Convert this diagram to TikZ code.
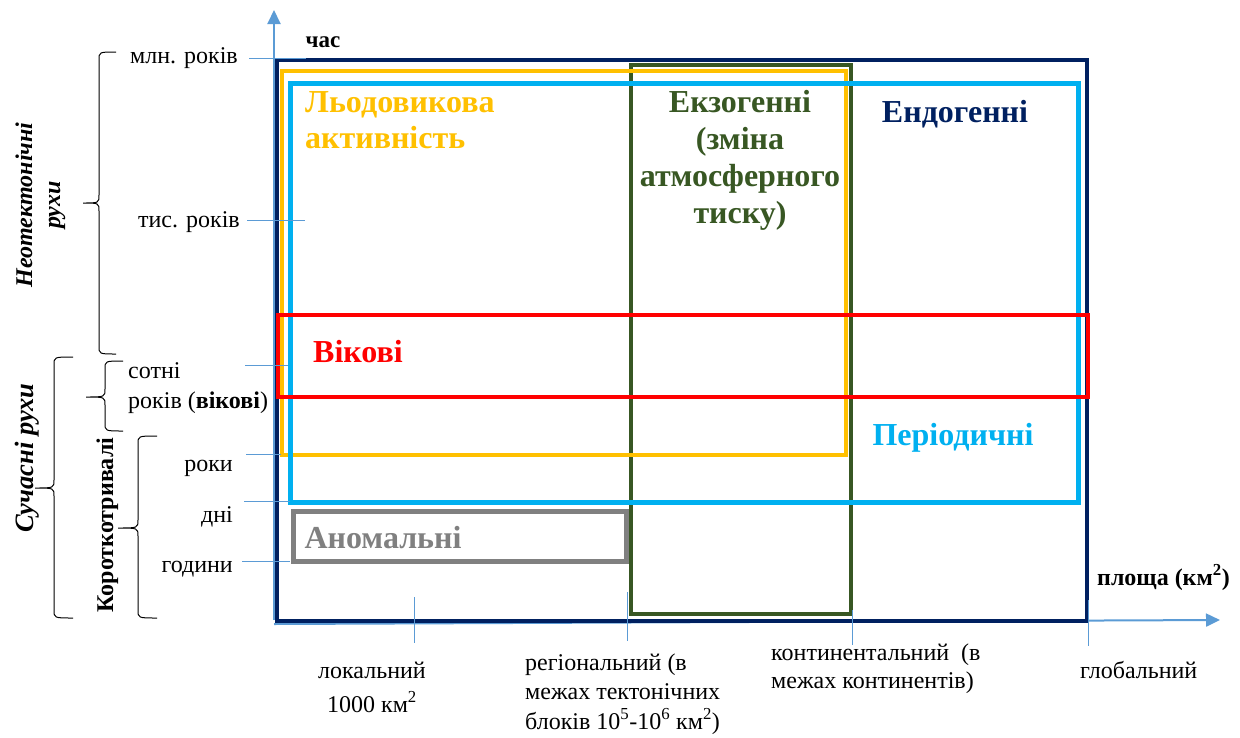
\documentclass[tikz,border=0pt]{standalone}
\usepackage{fontspec}
\setmainfont{Liberation Serif}
\usetikzlibrary{arrows.meta}
\definecolor{navy}{HTML}{002060}
\definecolor{ice}{HTML}{FFC000}
\definecolor{cyanb}{HTML}{00B0F0}
\definecolor{greenb}{HTML}{385723}
\definecolor{redb}{HTML}{FF0000}
\definecolor{grayb}{HTML}{808080}
\definecolor{axisb}{HTML}{5B9BD5}
\tikzset{
  axisline/.style={draw=axisb, line width=2pt, -{Triangle[length=14pt,width=13pt]}},
  tick/.style={draw=axisb, line width=1pt},
  frame/.style={line width=#1pt},
  big/.style={font=\bfseries\fontsize{32}{37}\selectfont, inner sep=0pt, anchor=base},
  bigl/.style={big, anchor=base west},
  lab/.style={font=\fontsize{24}{30}\selectfont, inner sep=0pt, anchor=base},
  labr/.style={lab, anchor=base east},
  labl/.style={lab, anchor=base west},
  bracepath/.style={draw=black, line width=1pt},
  vert/.style={rotate=90, inner sep=0pt, anchor=base},
}
\newcommand{\mybrace}[6]{% x-arm, x-spine, x-tip, y-top, y-mid, y-bot
  \draw[bracepath] (#1,#4) .. controls (#2,#4) .. (#2,#4+8) -- (#2,#5-8) .. controls (#2,#5) .. (#3,#5) .. controls (#2,#5) .. (#2,#5+8) -- (#2,#6-8) .. controls (#2,#6) .. (#1,#6);}
\begin{document}
\begin{tikzpicture}[x=1pt,y=-1pt]
\useasboundingbox (0,0) rectangle (1240,737);
% axes
\coordinate (Ytop) at (274,10);
\coordinate (Xend) at (1220,620);
\draw[axisline] (274,620) -- (Ytop);
\draw[axisline] (274,624) -- (Xend);
% rectangles
\draw[navy, frame=3.5] (277,60) rectangle (1087,621);
\draw[greenb, frame=4.5] (631,65) rectangle (851,614);
\draw[ice, frame=4.5] (282,71) rectangle (846,455);
\draw[cyanb, frame=5] (290,83) rectangle (1078,502);
\draw[redb, frame=4.5] (278,315) rectangle (1088,397);
\draw[grayb, frame=5] (293,511) rectangle (626,561);
% y ticks
\draw[tick] (249,58) -- (306,58);
\draw[tick] (247,220) -- (305,220);
\draw[tick] (245,365) -- (288,365);
\draw[tick] (246,454) -- (281,454);
\draw[tick] (244,501) -- (290,501);
\draw[tick] (242,561) -- (290,561);
% x ticks
\draw[tick] (414,597) -- (414,643);
\draw[tick] (627,592) -- (627,641);
\draw[tick] (852,610) -- (852,645);
\draw[tick] (1088,600) -- (1088,646);
% big labels
\node[bigl, ice] (lod1) at (305,112) {Льодовикова};
\node[bigl, ice] (lod2) at (305,148) {активність};
\node[big, greenb] (ekz1) at (740,112) {Екзогенні};
\node[big, greenb] (ekz2) at (740,149) {(зміна};
\node[big, greenb] (ekz3) at (740,186) {атмосферного};
\node[big, greenb] (ekz4) at (740,223) {тиску)};
\node[big, navy] (endo) at (955,122) {Ендогенні};
\node[big, redb] (vik) at (358,362) {Вікові};
\node[big, cyanb] (per) at (953,445) {Періодичні};
\node[big, grayb] (anom) at (383,548) {Аномальні};
% axis titles
\node[font=\bfseries\fontsize{23}{26}\selectfont, inner sep=0pt, anchor=base] (chas) at (323,47) {час};
\node[font=\bfseries\fontsize{24}{26}\selectfont, inner sep=0pt, anchor=base west] (plosha) at (1097,585) {площа (км\textsuperscript{2})};
% y labels
\node[labr] (mln) at (238,63) {млн. років};
\node[labr] (tys) at (240,227) {тис. років};
\node[labl] (sot1) at (128,378) {сотні};
\node[labl] (sot2) at (128,408) {років (\textbf{вікові})};
\node[labr] (roky) at (233,471) {роки};
\node[labr] (dni) at (233,522) {дні};
\node[labr] (hod) at (233,572) {години};
% x labels
\node[lab] (lok1) at (372,678) {локальний};
\node[lab] (lok2) at (372,712) {1000 км\textsuperscript{2}};
\node[labl] (reg1) at (525,670) {регіональний (в};
\node[labl] (reg2) at (525,699) {межах тектонічних};
\node[labl] (reg3) at (525,729) {блоків 10\textsuperscript{5}-10\textsuperscript{6} км\textsuperscript{2})};
\node[labl] (kont1) at (771,660) {континентальний~ (в};
\node[labl] (kont2) at (771,688) {межах континентів)};
\node[labl] (glob) at (1080,678) {глобальний};
% braces
\mybrace{116}{99}{83}{52}{203}{354}
\mybrace{73}{54}{35}{357}{488}{618}
\mybrace{123}{105}{86}{361}{397}{431}
\mybrace{157}{138}{118}{436}{528}{618}
% vertical labels
\node[vert, font=\bfseries\itshape\fontsize{24}{28}\selectfont] (neo1) at (32,205) {Неотектонічні};
\node[vert, font=\bfseries\itshape\fontsize{24}{28}\selectfont] (neo2) at (60,205) {рухи};
\node[vert, font=\bfseries\itshape\fontsize{26.5}{30}\selectfont] (such) at (33,458) {Сучасні рухи};
\node[vert, font=\bfseries\fontsize{24}{28}\selectfont] (krot) at (113,525) {Короткотривалі};
\end{tikzpicture}
\end{document}
